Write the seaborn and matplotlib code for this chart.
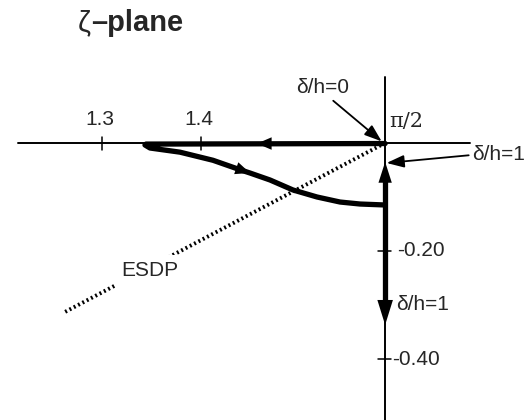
import matplotlib
matplotlib.use("Agg")
import matplotlib.pyplot as plt
import seaborn as sns
import pandas as pd
import numpy as np

sns.set_style("white")
plt.rcParams['font.family'] = ['Liberation Sans', 'DejaVu Sans']

# ---- data ----
x_ticks = [1.3, 1.4]
x_tick_labels = ["1.3", "1.4"]
y_ticks = [-0.20, -0.40]
y_tick_labels = ["-0.20", "-0.40"]
axis_x = 1.586          # position of the π/2 vertical axis
axis_label = "π/2"

# upper branch (along real axis, moving left)
upper_x = [1.586, 1.3445]
upper_y = [-0.001, -0.002]
# lower return branch
lower_x = [1.3445, 1.3434, 1.3485, 1.3788, 1.4121, 1.4394, 1.4495, 1.4697, 1.4929, 1.5172, 1.5404, 1.5606, 1.5860]
lower_y = [-0.002, -0.0037, -0.0093, -0.0170, -0.0320, -0.0495, -0.0556, -0.0685, -0.0870, -0.1000, -0.1093, -0.1130, -0.1148]
# vertical branch on the imaginary direction
vert_y = [-0.070, -0.295]

# ESDP dotted line
esdp_x = [1.5859, 1.2606]
esdp_y = [0.0, -0.3148]

fig = plt.figure(figsize=(5.27, 4.2), dpi=100)
ax = fig.add_axes([0, 0, 1, 1])
ax.set_xlim(1.19697, 1.72929)
ax.set_ylim(-0.51296, 0.2648)
ax.axis("off")

# axes lines
ax.plot([1.2152, 1.6717], [0, 0], color="black", lw=1.4)
ax.plot([axis_x, axis_x], [0.122, -0.513], color="black", lw=1.4)

# ticks
for t in x_ticks:
    ax.plot([t, t], [0.011, -0.013], color="black", lw=1.1)
for t in y_ticks:
    ax.plot([axis_x - 0.007, axis_x + 0.006], [t, t], color="black", lw=1.1)

# ESDP dotted line
sns.lineplot(x=esdp_x, y=esdp_y, ax=ax, color="black", lw=2.8,
             linestyle=(0, (0.5, 0.75)), sort=False, estimator=None)

# thick curve
path = pd.DataFrame({"x": upper_x + lower_x, "y": upper_y + lower_y})
sns.lineplot(data=path, x="x", y="y", ax=ax, color="black", lw=3.8,
             sort=False, estimator=None, solid_capstyle="round", solid_joinstyle="round")
sns.lineplot(x=[axis_x, axis_x], y=vert_y, ax=ax, color="black", lw=3.8,
             sort=False, estimator=None)

def head(hl, hw):
    return dict(arrowstyle=f"-|>,head_length={hl},head_width={hw}", color="black", lw=0,
                shrinkA=0, shrinkB=0)

# arrow along upper branch (pointing left)
ax.annotate("", xy=(1.4566, -0.001), xytext=(1.4697, -0.001), arrowprops=head(1.05, 0.45))
# arrow on lower branch (moving right/down)
ax.annotate("", xy=(1.4495, -0.0556), xytext=(1.4364, -0.0472), arrowprops=head(1.05, 0.45))
# upward arrow on vertical
ax.annotate("", xy=(axis_x, -0.035), xytext=(axis_x, -0.080), arrowprops=head(1.5, 0.48))
# downward arrow on vertical
ax.annotate("", xy=(axis_x, -0.337), xytext=(axis_x, -0.280), arrowprops=head(1.8, 0.56))

# pointer arrows
ptr = dict(arrowstyle="-|>,head_length=0.7,head_width=0.25", color="black", lw=1.3,
           shrinkA=0, shrinkB=0)
FS = 15
ax.annotate("δ/h=0", xy=(1.5825, 0.003), xytext=(1.5232, 0.1019), fontsize=FS,
            ha="center", va="center", arrowprops=dict(ptr, relpos=(0.62, 0.0)))
ax.annotate("δ/h=1", xy=(1.5875, -0.037), xytext=(1.6737, -0.0222), fontsize=FS,
            ha="left", va="center", arrowprops=dict(ptr, relpos=(0.0, 0.5)))

# labels
for t, lab in zip(x_ticks, x_tick_labels):
    ax.text(t - 0.002, 0.043, lab, fontsize=FS, ha="center", va="center")
ax.text(axis_x + 0.004, 0.0407, axis_label, fontsize=FS, ha="left", va="center",
        family="DejaVu Serif")
ax.text(axis_x + 0.012, y_ticks[0], y_tick_labels[0], fontsize=FS, ha="left", va="center")
ax.text(axis_x + 0.007, y_ticks[1], y_tick_labels[1], fontsize=FS, ha="left", va="center")
ax.text(axis_x + 0.011, -0.300, "δ/h=1", fontsize=FS, ha="left", va="center")
ax.text(1.3485, -0.237, "ESDP", fontsize=FS, ha="center", va="center",
        bbox=dict(facecolor="white", edgecolor="none", pad=5))

fig.text(0.148, 0.945, "ζ", fontsize=21, ha="left", va="center")
fig.text(0.172, 0.945, "–plane", fontsize=21, fontweight="bold", ha="left", va="center")

fig.savefig("out.png", dpi=100)
